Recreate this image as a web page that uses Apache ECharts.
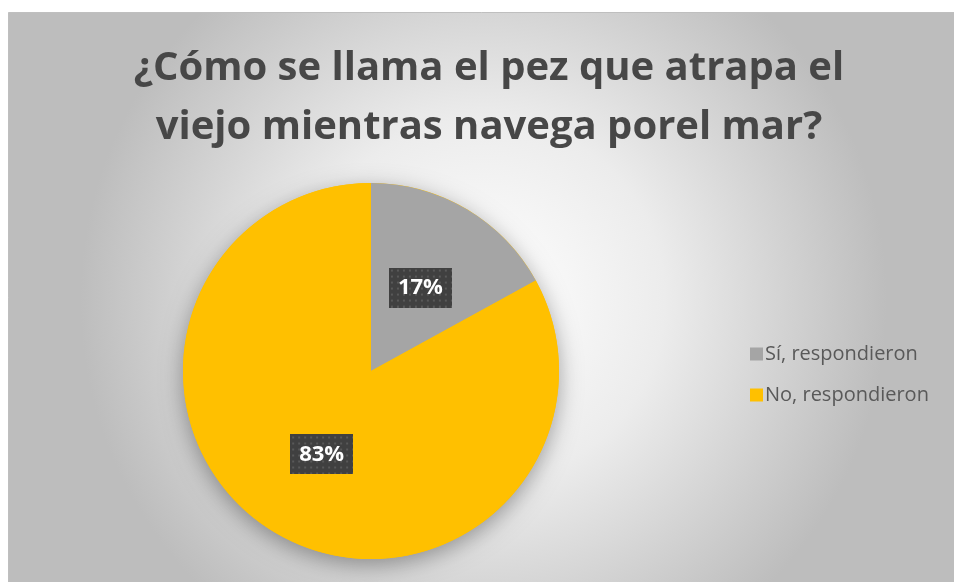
<!DOCTYPE html>
<html>
<head>
<meta charset="utf-8">
<script src="https://cdn.jsdelivr.net/npm/echarts@6/dist/echarts.min.js"></script>
<style>
html, body { margin: 0; padding: 0; background: #fff; }
#main { width: 954px; height: 582px; }
</style>
</head>
<body>
<div id="main"></div>
<script>
var myChart = echarts.init(document.getElementById('main'));

var titleLines = ['¿Cómo se llama el pez que atrapa el', 'viejo mientras navega porel mar?'];
var categories = ['Sí, respondieron', 'No, respondieron'];
var values = [17, 83];
var colors = ['#a5a5a5', '#ffc000'];

// dotted dark box behind the data labels
function dotBox(w, h) {
    var c = document.createElement('canvas');
    c.width = w; c.height = h;
    var ctx = c.getContext('2d');
    ctx.fillStyle = '#404040';
    ctx.fillRect(0, 0, w, h);
    ctx.fillStyle = '#595959';
    for (var y = 2; y < h; y += 6) {
        for (var x = 2; x < w; x += 6) {
            ctx.fillRect(x, y, 2, 2);
        }
    }
    return c;
}
var labelBg = dotBox(63, 40);

var data = categories.map(function (name, i) {
    return { name: name, value: values[i], itemStyle: { color: colors[i] } };
});

var option = {
    animation: false,
    graphic: [{
        type: 'rect',
        z: -10,
        shape: { x: 8.5, y: 12.5, width: 950, height: 575 },
        style: {
            fill: {
                type: 'radial', x: 0.5, y: 0.5, r: 0.7,
                colorStops: [
                    { offset: 0, color: '#ffffff' },
                    { offset: 0.45, color: '#ececec' },
                    { offset: 1, color: '#bdbdbd' }
                ]
            },
            stroke: '#bfbfbf',
            lineWidth: 1
        }
    }],
    title: {
        text: titleLines.join('\n'),
        left: 484,
        textAlign: 'center',
        top: 34,
        textStyle: {
            fontFamily: 'Open Sans',
            fontWeight: 'bold',
            fontSize: 40,
            lineHeight: 59,
            color: '#474747'
        }
    },
    legend: {
        orient: 'vertical',
        left: 745,
        top: 339,
        itemWidth: 13,
        itemHeight: 13,
        itemGap: 21,
        icon: 'rect',
        data: categories,
        textStyle: { fontFamily: 'Open Sans', fontSize: 20, color: '#595959', padding: [0, 0, 0, -3] }
    },
    series: [{
        type: 'pie',
        silent: true,
        z: 1,
        center: [371, 371],
        radius: [0, 188],
        label: { show: false },
        legendHoverLink: false,
        itemStyle: {
            color: '#ffc000',
            shadowBlur: 22,
            shadowOffsetY: 6,
            shadowColor: 'rgba(0,0,0,0.35)'
        },
        data: [{ name: '', value: 1 }]
    }, {
        type: 'pie',
        z: 2,
        center: [371, 371],
        radius: [0, 188],
        startAngle: 90,
        clockwise: true,
        data: data,
        label: {
            show: true,
            position: 'inside',
            formatter: '{c}%',
            fontFamily: 'Open Sans',
            fontWeight: 'bold',
            fontSize: 22,
            lineHeight: 26,
            color: '#ffffff',
            padding: [7, 9],
            backgroundColor: { image: labelBg },
            shadowBlur: 5,
            shadowOffsetX: 3,
            shadowOffsetY: 3,
            shadowColor: 'rgba(0,0,0,0.45)'
        },
        labelLine: { show: false }
    }]
};

myChart.setOption(option);
</script>
</body>
</html>
